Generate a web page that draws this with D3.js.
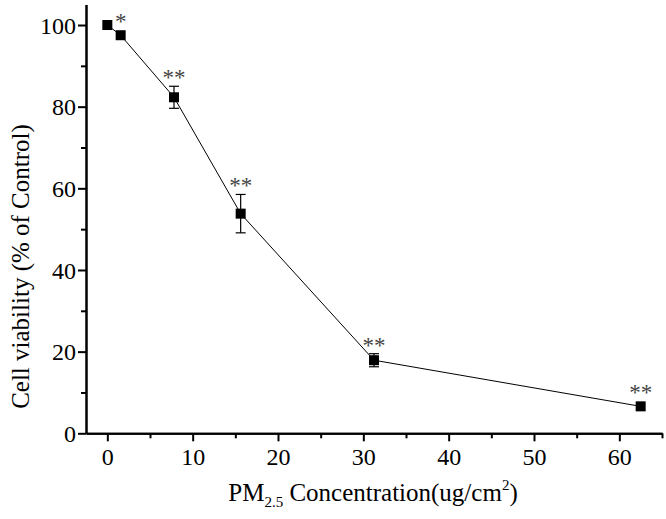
<!DOCTYPE html>
<html><head><meta charset="utf-8">
<script src="https://cdn.jsdelivr.net/npm/d3@7"></script>
<style>body{margin:0;background:#fff} svg, svg text, svg tspan{font-family:"Times New Roman","Liberation Serif",Tinos,serif;}</style>
</head><body>
<svg id="c" width="666" height="519" font-family="Liberation Serif, serif"></svg>
<script>
const concentrations = [0, 1.5625, 7.8125, 15.625, 31.25, 62.5];
const viability = [100, 97.5, 82.3, 53.8, 17.9, 6.6];
const errors = [0, 0, 2.7, 4.7, 1.6, 0];
const significance = ["", "*", "**", "**", "**", "**"];
const xTicks = [0, 10, 20, 30, 40, 50, 60];
const yTicks = [0, 20, 40, 60, 80, 100];

const FONT = '"Times New Roman", "Liberation Serif", Tinos, serif';
const svg = d3.select("#c");
const x = d3.scaleLinear().domain([-2.5, 65]).range([86, 662]);
const y = d3.scaleLinear().domain([0, 105]).range([433.3, 4.6]);

// axes
const xMinor = d3.range(5, 66, 10);
const yMinor = d3.range(10, 101, 20);
const gx = svg.append("g").attr("transform", `translate(0,${y(0)})`);
gx.call(d3.axisBottom(x).tickValues(xTicks).tickSize(8).tickSizeOuter(0).tickPadding(5));
gx.append("g").call(d3.axisBottom(x).tickValues(xMinor).tickSize(5).tickSizeOuter(0).tickFormat(""));
const gy = svg.append("g").attr("transform", `translate(${x(-2.5)},0)`);
gy.call(d3.axisLeft(y).tickValues(yTicks).tickSize(8).tickSizeOuter(0).tickPadding(2));
gy.append("g").call(d3.axisLeft(y).tickValues(yMinor).tickSize(5).tickSizeOuter(0).tickFormat(""));
svg.selectAll("g").attr("font-family", null);
svg.selectAll(".domain").attr("stroke", "#000").attr("stroke-width", 2);
svg.selectAll(".tick line").attr("stroke", "#000").attr("stroke-width", 2);
svg.selectAll(".tick text").style("font-family", FONT).attr("font-size", 24).attr("fill", "#000");
gx.selectAll(".tick text").attr("dy", "0.78em");
gy.selectAll(".tick text").attr("dy", "0.34em");

// line
const pts = concentrations.map((c, i) => ({c, v: viability[i], e: errors[i], s: significance[i]}));
svg.append("path").datum(pts)
  .attr("d", d3.line().x(d => x(d.c)).y(d => y(d.v)))
  .attr("fill", "none").attr("stroke", "#000").attr("stroke-width", 1);

// error bars
const eb = svg.append("g").attr("stroke", "#000").attr("stroke-width", 1.2);
pts.filter(d => d.e > 0).forEach(d => {
  eb.append("line").attr("x1", x(d.c)).attr("x2", x(d.c)).attr("y1", y(d.v + d.e)).attr("y2", y(d.v - d.e));
  [d.v + d.e, d.v - d.e].forEach(v => eb.append("line").attr("x1", x(d.c) - 5).attr("x2", x(d.c) + 5).attr("y1", y(v)).attr("y2", y(v)));
});

// markers
svg.append("g").selectAll("rect").data(pts).join("rect")
  .attr("x", d => x(d.c) - 5).attr("y", d => y(d.v) - 5)
  .attr("width", 10).attr("height", 10).attr("fill", "#000");

// significance
svg.append("g").selectAll("text").data(pts.filter(d => d.s)).join("text")
  .attr("x", d => x(d.c))
  .attr("y", d => Math.min(y(d.v) - 5, y(d.v + d.e)) - 1)
  .attr("text-anchor", "middle")
  .style("font-family", FONT).attr("font-size", 23).attr("fill", "#444")
  .text(d => d.s);

// axis labels
const xl = svg.append("text").attr("x", 373).attr("y", 501).attr("text-anchor", "middle")
  .style("font-family", FONT).attr("font-size", 25).attr("fill", "#000");
xl.append("tspan").text("PM");
xl.append("tspan").attr("font-size", 15).attr("dy", 6).text("2.5");
xl.append("tspan").attr("dy", -6).text(" Concentration(ug/cm");
xl.append("tspan").attr("font-size", 15).attr("dy", -11).text("2");
xl.append("tspan").attr("dy", 11).text(")");

svg.append("text").attr("transform", `translate(29,266.5) rotate(-90)`)
  .attr("text-anchor", "middle").style("font-family", FONT).attr("font-size", 25).attr("fill", "#000")
  .text("Cell viability (% of Control)");
</script>
</body></html>
